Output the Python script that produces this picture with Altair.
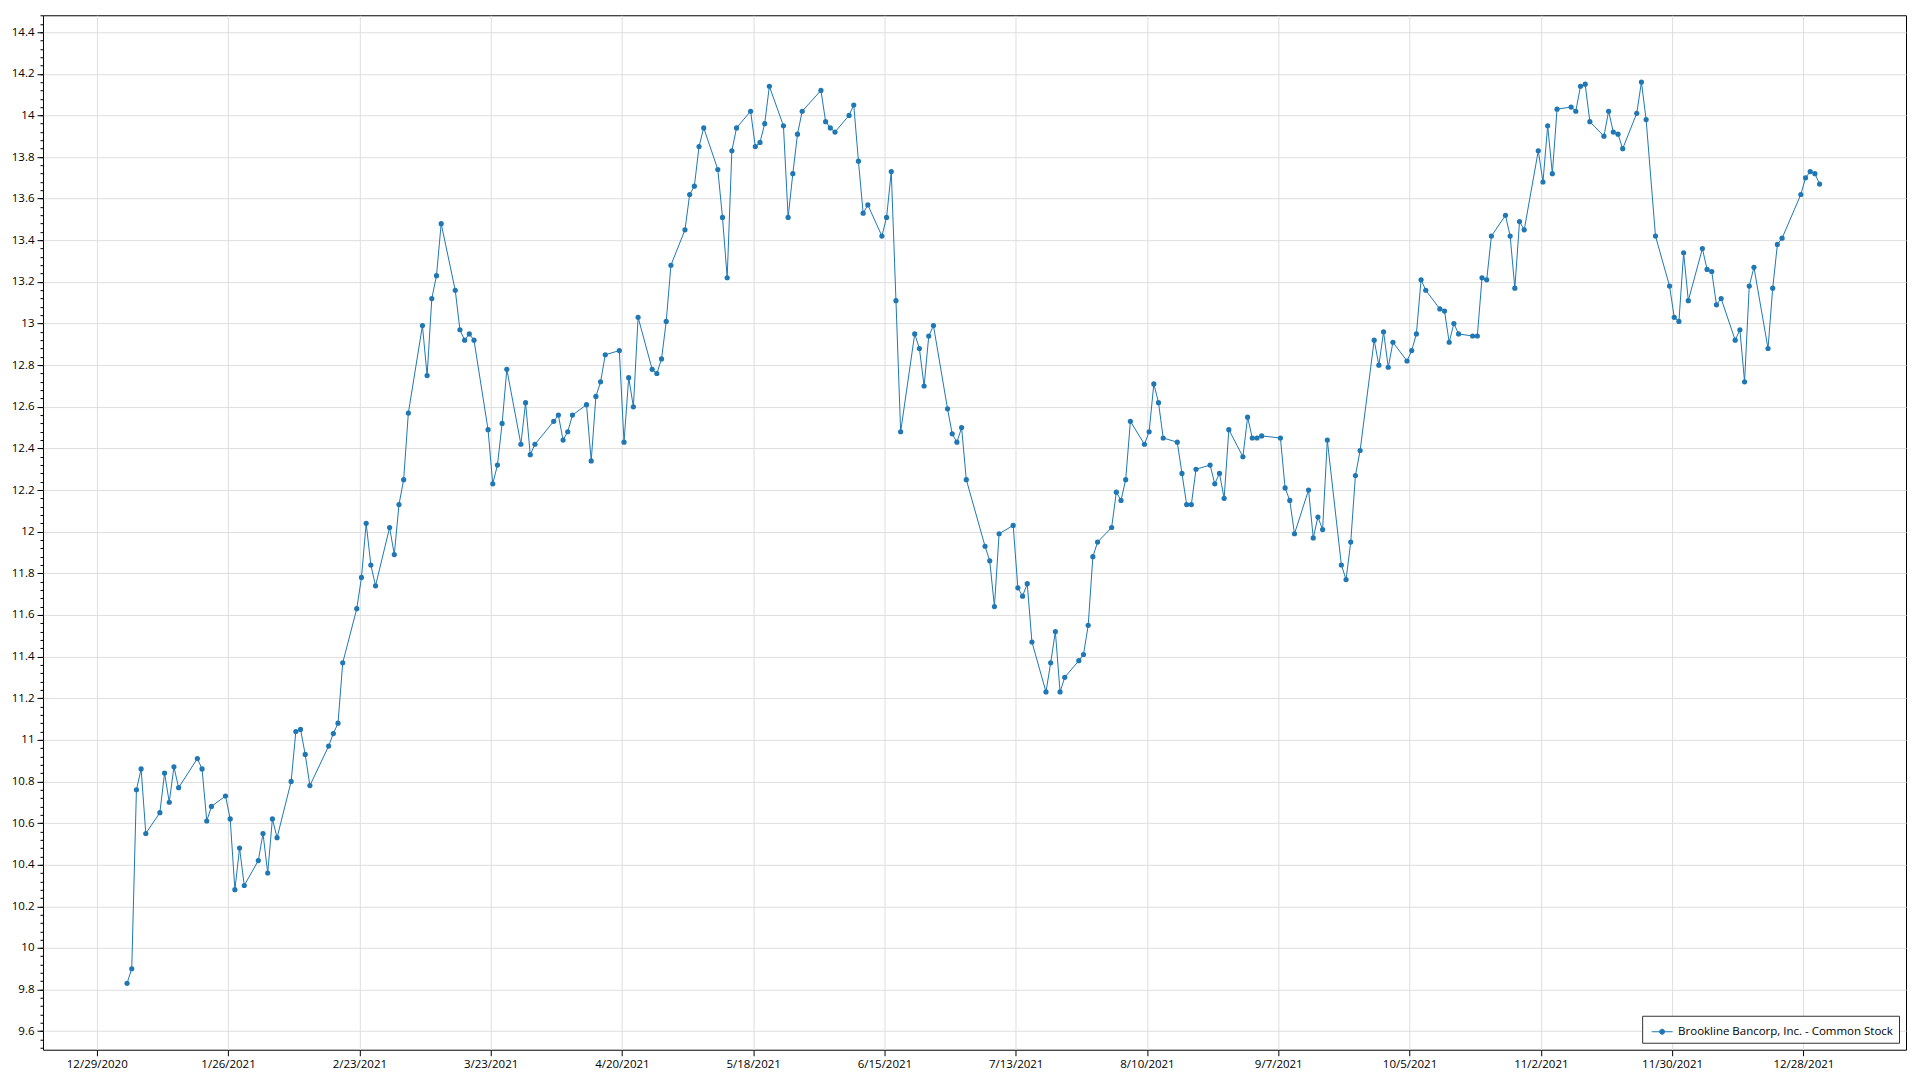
import altair as alt
import pandas as pd
import numpy as np

SERIES = "Brookline Bancorp, Inc. - Common Stock"
LINE_COLOR = "#1f77b4"

# trading days (day of month) and closing prices, month by month (2021)
jan_days = [4, 5, 6, 7, 8, 11, 12, 13, 14, 15, 19, 20, 21, 22, 25, 26, 27, 28, 29]
jan_prices = [9.83, 9.90, 10.76, 10.86, 10.55, 10.65, 10.84, 10.70, 10.87, 10.77, 10.91, 10.86, 10.61, 10.68, 10.73, 10.62, 10.28, 10.48, 10.30]
feb_days = [1, 2, 3, 4, 5, 8, 9, 10, 11, 12, 16, 17, 18, 19, 22, 23, 24, 25, 26]
feb_prices = [10.42, 10.55, 10.36, 10.62, 10.53, 10.80, 11.04, 11.05, 10.93, 10.78, 10.97, 11.03, 11.08, 11.37, 11.63, 11.78, 12.04, 11.84, 11.74]
mar_days = [1, 2, 3, 4, 5, 8, 9, 10, 11, 12, 15, 16, 17, 18, 19, 22, 23, 24, 25, 26, 29, 30, 31]
mar_prices = [12.02, 11.89, 12.13, 12.25, 12.57, 12.99, 12.75, 13.12, 13.23, 13.48, 13.16, 12.97, 12.92, 12.95, 12.92, 12.49, 12.23, 12.32, 12.52, 12.78, 12.42, 12.62, 12.37]
apr_days = [1, 5, 6, 7, 8, 9, 12, 13, 14, 15, 16, 19, 20, 21, 22, 23, 26, 27, 28, 29, 30]
apr_prices = [12.42, 12.53, 12.56, 12.44, 12.48, 12.56, 12.61, 12.34, 12.65, 12.72, 12.85, 12.87, 12.43, 12.74, 12.60, 13.03, 12.78, 12.76, 12.83, 13.01, 13.28]
may_days = [3, 4, 5, 6, 7, 10, 11, 12, 13, 14, 17, 18, 19, 20, 21, 24, 25, 26, 27, 28]
may_prices = [13.45, 13.62, 13.66, 13.85, 13.94, 13.74, 13.51, 13.22, 13.83, 13.94, 14.02, 13.85, 13.87, 13.96, 14.14, 13.95, 13.51, 13.72, 13.91, 14.02]
jun_days = [1, 2, 3, 4, 7, 8, 9, 10, 11, 14, 15, 16, 17, 18, 21, 22, 23, 24, 25, 28, 29, 30]
jun_prices = [14.12, 13.97, 13.94, 13.92, 14.00, 14.05, 13.78, 13.53, 13.57, 13.42, 13.51, 13.73, 13.11, 12.48, 12.95, 12.88, 12.70, 12.94, 12.99, 12.59, 12.47, 12.43]
jul_days = [1, 2, 6, 7, 8, 9, 12, 13, 14, 15, 16, 19, 20, 21, 22, 23, 26, 27, 28, 29, 30]
jul_prices = [12.50, 12.25, 11.93, 11.86, 11.64, 11.99, 12.03, 11.73, 11.69, 11.75, 11.47, 11.23, 11.37, 11.52, 11.23, 11.30, 11.38, 11.41, 11.55, 11.88, 11.95]
aug_days = [2, 3, 4, 5, 6, 9, 10, 11, 12, 13, 16, 17, 18, 19, 20, 23, 24, 25, 26, 27, 30, 31]
aug_prices = [12.02, 12.19, 12.15, 12.25, 12.53, 12.42, 12.48, 12.71, 12.62, 12.45, 12.43, 12.28, 12.13, 12.13, 12.30, 12.32, 12.23, 12.28, 12.16, 12.49, 12.36, 12.55]
sep_days = [1, 2, 3, 7, 8, 9, 10, 13, 14, 15, 16, 17, 20, 21, 22, 23, 24, 27, 28, 29, 30]
sep_prices = [12.45, 12.45, 12.46, 12.45, 12.21, 12.15, 11.99, 12.20, 11.97, 12.07, 12.01, 12.44, 11.84, 11.77, 11.95, 12.27, 12.39, 12.92, 12.80, 12.96, 12.79]
oct_days = [1, 4, 5, 6, 7, 8, 11, 12, 13, 14, 15, 18, 19, 20, 21, 22, 25, 26, 27, 28, 29]
oct_prices = [12.91, 12.82, 12.87, 12.95, 13.21, 13.16, 13.07, 13.06, 12.91, 13.00, 12.95, 12.94, 12.94, 13.22, 13.21, 13.42, 13.52, 13.42, 13.17, 13.49, 13.45]
nov_days = [1, 2, 3, 4, 5, 8, 9, 10, 11, 12, 15, 16, 17, 18, 19, 22, 23, 24, 26, 29, 30]
nov_prices = [13.83, 13.68, 13.95, 13.72, 14.03, 14.04, 14.02, 14.14, 14.15, 13.97, 13.90, 14.02, 13.92, 13.91, 13.84, 14.01, 14.16, 13.98, 13.42, 13.18, 13.03]
dec_days = [1, 2, 3, 6, 7, 8, 9, 10, 13, 14, 15, 16, 17, 20, 21, 22, 23, 27, 28, 29, 30, 31]
dec_prices = [13.01, 13.34, 13.11, 13.36, 13.26, 13.25, 13.09, 13.12, 12.92, 12.97, 12.72, 13.18, 13.27, 12.88, 13.17, 13.38, 13.41, 13.62, 13.70, 13.73, 13.72, 13.67]

months = [
    (1, jan_days, jan_prices), (2, feb_days, feb_prices), (3, mar_days, mar_prices),
    (4, apr_days, apr_prices), (5, may_days, may_prices), (6, jun_days, jun_prices),
    (7, jul_days, jul_prices), (8, aug_days, aug_prices), (9, sep_days, sep_prices),
    (10, oct_days, oct_prices), (11, nov_days, nov_prices), (12, dec_days, dec_prices),
]

# quote timestamp (time of day of each quote)
QUOTE_TIME = "11:00:00"

x_tick_dates = ["2020-12-29", "2021-01-26", "2021-02-23", "2021-03-23", "2021-04-20",
                "2021-05-18", "2021-06-15", "2021-07-13", "2021-08-10", "2021-09-07",
                "2021-10-05", "2021-11-02", "2021-11-30", "2021-12-28"]
y_major_ticks = [9.6, 9.8, 10.0, 10.2, 10.4, 10.6, 10.8, 11.0, 11.2, 11.4, 11.6, 11.8, 12.0,
                 12.2, 12.4, 12.6, 12.8, 13.0, 13.2, 13.4, 13.6, 13.8, 14.0, 14.2, 14.4]
y_minor_ticks = [round(v, 2) for v in np.arange(9.52, 14.48, 0.04)]

x_domain = ["2020-12-17T12:40:00", "2022-01-18T21:20:00"]
y_domain = [9.511, 14.481]

rows = []
for m, days, prices in months:
    for d, p in zip(days, prices):
        rows.append({"date": f"2021-{m:02d}-{d:02d}T{QUOTE_TIME}Z", "price": p, "series": SERIES})
df = pd.DataFrame(rows)


def ms(s):
    return int(pd.Timestamp(s).tz_localize("UTC").timestamp() * 1000)


x_vals = [ms(s) for s in x_tick_dates]
x_dom = [ms(s) for s in x_domain]

FONT = "Open Sans"

x_enc = alt.X(
    "date:T",
    scale=alt.Scale(type="utc", domain=x_dom, nice=False),
    axis=alt.Axis(values=x_vals, labelExpr="utcFormat(datum.value, '%-m/%-d/%Y')", title=None,
                  grid=True, gridColor="#dedede", gridWidth=1, domain=False,
                  tickColor="#000000", tickSize=6, labelPadding=3, labelFont=FONT,
                  labelFontSize=11.5, labelColor="#000000", labelFlush=False,
                  labelOverlap=False),
)

line = alt.Chart(df).mark_line(color=LINE_COLOR, strokeWidth=1).encode(
    x=x_enc,
    y=alt.Y("price:Q", scale=alt.Scale(domain=y_domain, nice=False, zero=False),
            axis=alt.Axis(values=y_major_ticks, format="~g", title=None, orient="left",
                          grid=True, gridColor="#dedede", gridWidth=1, domain=False,
                          tickColor="#000000", tickSize=6, labelPadding=3, labelFont=FONT,
                          labelFontSize=11.5, labelColor="#000000", labelFlush=False,
                          labelOverlap=False)),
)

legend_symbol = "M-1,0L1,0M-0.24,0A0.24,0.24 0 1,0 0.24,0A0.24,0.24 0 1,0 -0.24,0Z"

points = alt.Chart(df).mark_circle(size=27, opacity=1).encode(
    x=x_enc,
    y=alt.Y("price:Q", scale=alt.Scale(domain=y_domain, nice=False, zero=False),
            axis=alt.Axis(values=y_minor_ticks, labels=False, title=None, orient="left",
                          grid=False, domain=False, tickColor="#000000", tickSize=3)),
    color=alt.Color(
        "series:N",
        scale=alt.Scale(range=[LINE_COLOR]),
        legend=alt.Legend(
            title=None, orient="bottom-right", offset=7,
            strokeColor="#333333", fillColor="#ffffff", padding=5,
            symbolType=legend_symbol, symbolSize=441, symbolStrokeWidth=1,
            symbolFillColor=LINE_COLOR, symbolStrokeColor=LINE_COLOR,
            symbolOpacity=1, symbolOffset=4, labelOffset=5, labelLimit=500,
            labelFont=FONT, labelFontSize=11.5, labelColor="#000000",
        ),
    ),
)

chart = alt.layer(line, points).resolve_axis(y="independent").properties(
    width=1864, height=1035,
    autosize=alt.AutoSizeParams(type="none"),
    padding={"left": 35, "top": 7, "right": 6, "bottom": 28},
    background="#ffffff",
).configure_view(stroke="#000000", strokeWidth=1)

chart.save("out.html", embed_options={"renderer": "svg", "actions": False})
